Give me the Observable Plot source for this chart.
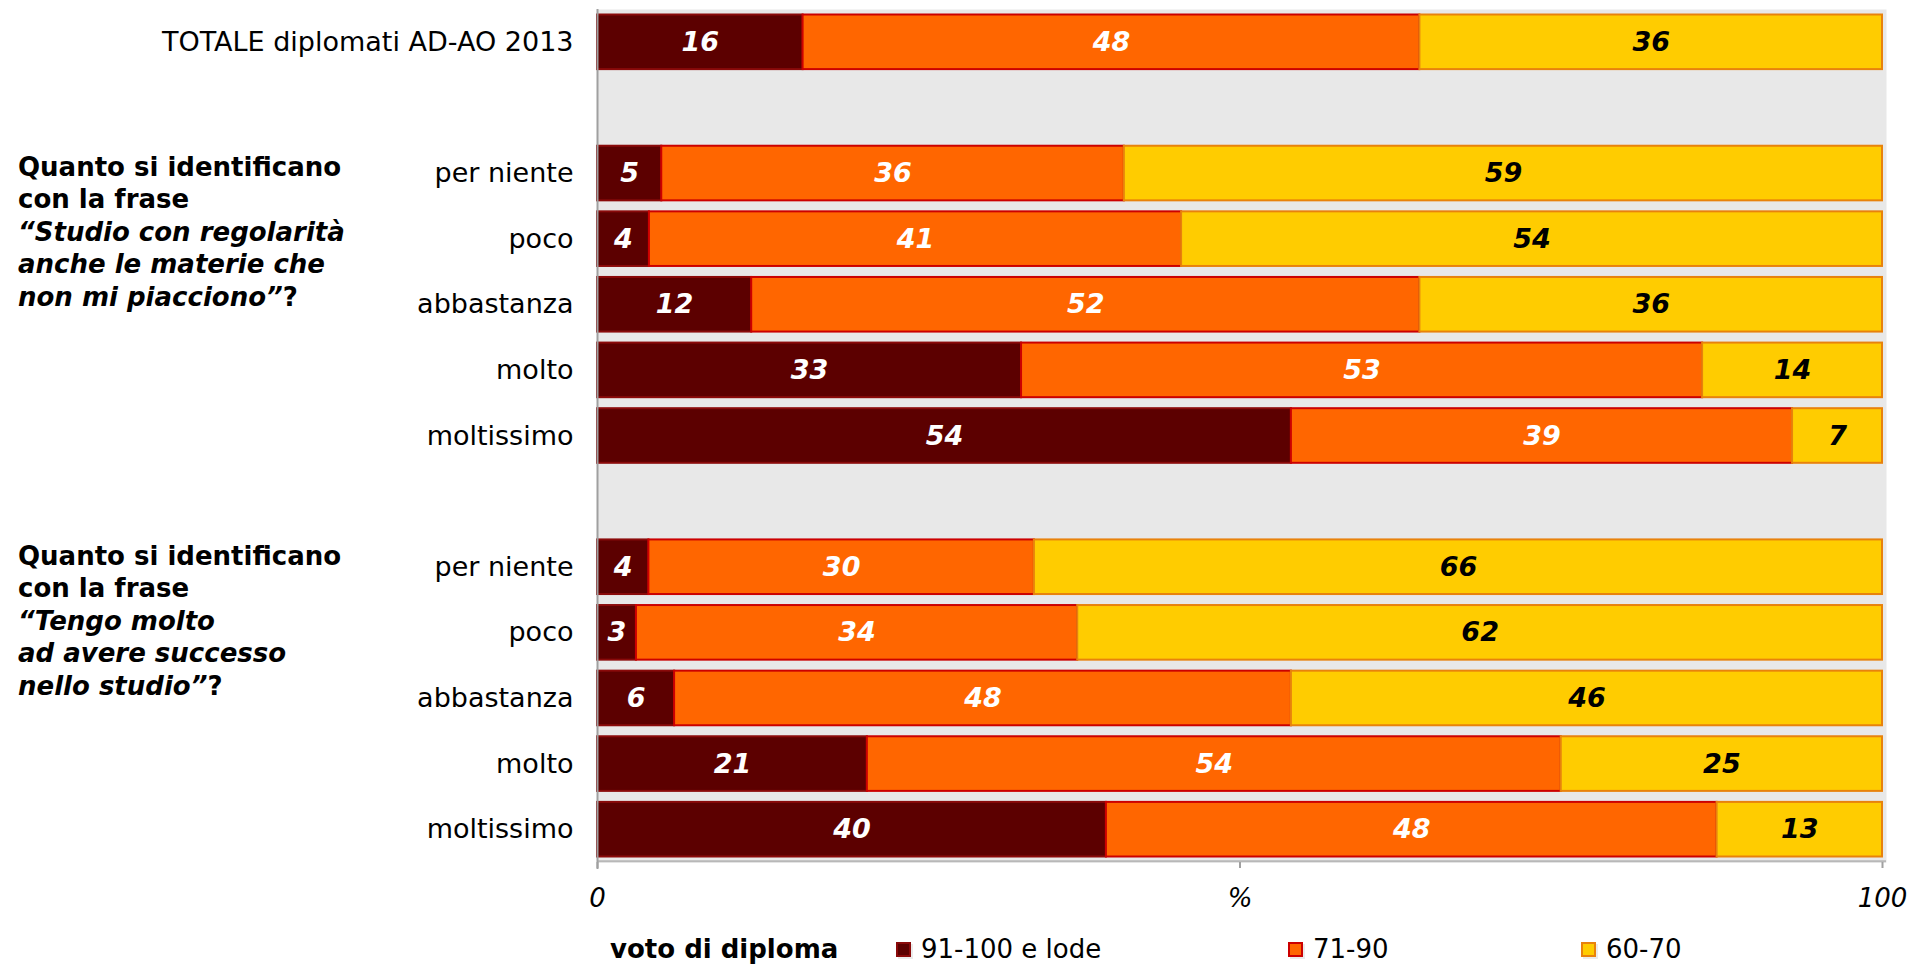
<!DOCTYPE html>
<html>
<head>
<meta charset="utf-8">
<script src="https://cdn.jsdelivr.net/npm/d3@7"></script>
<script src="https://cdn.jsdelivr.net/npm/@observablehq/plot@0.6"></script>
<style>
  html, body { margin: 0; padding: 0; background: #fff; overflow: hidden; }
  body { font-family: "DejaVu Sans", Verdana, sans-serif; color: #000; }
  #wrap { position: relative; width: 1913px; height: 964px; }
  #chart { position: absolute; left: 0; top: 0; line-height: 0; }
  .group { position: absolute; left: 18px; font-weight: bold; font-size: 26px; line-height: 32.4px; white-space: nowrap; }
  .group i { font-style: italic; }
  .legend { position: absolute; top: 935px; left: 0; width: 1913px; height: 28px; font-size: 26px; line-height: 28px; }
  .legend span { position: absolute; top: 0; white-space: nowrap; }
  .legend .title { font-weight: bold; }
  .legend .sw { position: absolute; top: 7px; width: 11px; height: 11px; border: 2px solid; box-shadow: 2px 2px 0 rgba(0,0,0,0.08); }
</style>
</head>
<body>
<div id="wrap">
  <div id="chart"></div>
  <div id="g1" class="group" style="top:151px"></div>
  <div id="g2" class="group" style="top:540px"></div>
  <div id="legend" class="legend"></div>
</div>
<script>
// ---- data ----
const totalLabel = "TOTALE diplomati AD-AO 2013";
const levels = ["per niente", "poco", "abbastanza", "molto", "moltissimo"];
const series = ["91-100 e lode", "71-90", "60-70"];
const legendTitle = "voto di diploma";
const totalValues = [16, 48, 36];
const regolaritaValues = [[5, 36, 59], [4, 41, 54], [12, 52, 36], [33, 53, 14], [54, 39, 7]];
const successoValues = [[4, 30, 66], [3, 34, 62], [6, 48, 46], [21, 54, 25], [40, 48, 13]];
const groupTitle1 = ["Quanto si identificano", "con la frase"];
const groupQuote1 = ["“Studio con regolarità", "anche le materie che", "non mi piacciono”"];
const groupTitle2 = ["Quanto si identificano", "con la frase"];
const groupQuote2 = ["“Tengo molto", "ad avere successo", "nello studio”"];
const xTicks = [0, 0.5, 1];
const xTickLabels = ["0", "%", "100"];

// ---- styles ----
const fills = {"91-100 e lode": "#5c0000", "71-90": "#ff6600", "60-70": "#ffcc00"};
const strokes = {"91-100 e lode": "#8a0a0a", "71-90": "#cc0000", "60-70": "#e8820c"};
const textFills = {"91-100 e lode": "#ffffff", "71-90": "#ffffff", "60-70": "#000000"};

// ---- table ----
const rows = [];
function add(key, vals) { vals.forEach((v, i) => rows.push({row: key, series: series[i], value: v})); }
add("T", totalValues);
regolaritaValues.forEach((v, j) => add("A" + j, v));
successoValues.forEach((v, j) => add("B" + j, v));
const yDomain = ["T", "gapA", ...levels.map((_, j) => "A" + j), "gapB", ...levels.map((_, j) => "B" + j)];
const yLabel = k => k === "T" ? totalLabel : k.startsWith("gap") ? "" : levels[+k.slice(1)];

const H = 930;
const stackOpts = {x: "value", y: "row", z: "series", offset: "normalize"};

const chart = Plot.plot({
  width: 1913,
  height: H,
  marginTop: 9,
  marginBottom: H - 862,
  marginLeft: 597,
  marginRight: 27,
  style: {fontFamily: "'DejaVu Sans', Verdana, sans-serif", fontSize: "26px", color: "#000", background: "transparent"},
  x: {domain: [0, 1], range: [597, 1882]},
  y: {domain: yDomain, padding: 0, round: false, axis: null},
  color: {type: "identity"},
  marks: [
    Plot.frame({fill: "#e8e8e8", stroke: null}),
    Plot.ruleY(["B4"], {dy: 31.5, stroke: "#b8b8b8", strokeWidth: 2}),
    Plot.barX(rows, Plot.stackX({
      ...stackOpts,
      fill: d => fills[d.series],
      stroke: d => strokes[d.series],
      strokeWidth: 2,
      insetTop: 5.5,
      insetBottom: 5.5
    })),
    Plot.text(rows, Plot.stackX({
      ...stackOpts,
      text: d => String(d.value),
      fill: d => textFills[d.series],
      fontWeight: "bold",
      fontStyle: "italic",
      fontSize: 27
    })),
    Plot.axisY({tickSize: 0, tickPadding: 24, tickFormat: yLabel, fontSize: 27, label: null}),
    Plot.axisX({
      ticks: xTicks,
      tickFormat: d => xTickLabels[xTicks.indexOf(d)],
      tickSize: 6,
      tickPadding: 20,
      stroke: "#a0a0a0",
      strokeWidth: 2,
      fontStyle: "italic",
      fontSize: 26,
      label: null
    }),
    Plot.ruleX([0], {stroke: "#a0a0a0", strokeWidth: 2, insetBottom: -7})
  ]
});
document.getElementById("chart").appendChild(chart);

// ---- group labels ----
function fillGroup(id, title, quote) {
  const el = document.getElementById(id);
  let html = title.map(t => `<div>${t}</div>`).join("");
  html += quote.map((q, i) => `<div><i>${q}</i>${i === quote.length - 1 ? "?" : ""}</div>`).join("");
  el.innerHTML = html;
}
fillGroup("g1", groupTitle1, groupQuote1);
fillGroup("g2", groupTitle2, groupQuote2);

// ---- legend ----
const lg = document.getElementById("legend");
const swX = [896, 1288, 1581];
let lh = `<span class="title" style="left:610px">${legendTitle}</span>`;
series.forEach((s, i) => {
  lh += `<div class="sw" style="left:${swX[i]}px;background:${fills[s]};border-color:${strokes[s]}"></div>`;
  lh += `<span style="left:${swX[i] + 25}px">${s}</span>`;
});
lg.innerHTML = lh;
</script>
</body>
</html>
